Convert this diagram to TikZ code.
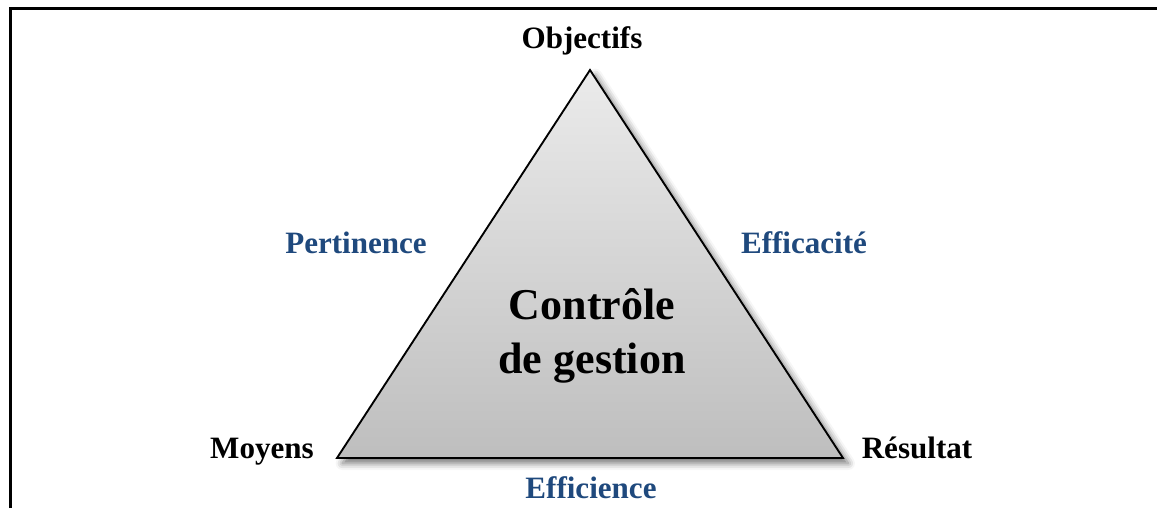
\documentclass[tikz,border=0pt]{standalone}
\usepackage{fontspec}
\setmainfont{Liberation Serif}
\usepackage{tikz}
\usetikzlibrary{shadows.blur, positioning}
\definecolor{myblue}{HTML}{1F497D}
\definecolor{toptri}{HTML}{EBEBEB}
\definecolor{bottri}{HTML}{BEBEBE}
\tikzset{
  corner/.style={font=\bfseries\fontsize{23.3}{28}\selectfont, anchor=base, inner sep=0pt},
  side/.style={corner, text=myblue}
}

\begin{document}
\begin{tikzpicture}[x=0.75pt, y=0.75pt]
	\useasboundingbox (0,0) rectangle (1157,508);
	\draw [line width=2.25pt] (10.7,0) -- (10.7,499.5) -- (1157,499.5);
	% triangle
	\coordinate (apex) at (590,438);
	\coordinate (bl) at (337,50);
	\coordinate (br) at (843,50);
	\filldraw [line width=1.4pt, top color=toptri, bottom color=bottri,
		blur shadow={shadow xshift=4pt, shadow yshift=-4pt, shadow blur radius=5pt, shadow opacity=55}]
		(apex) -- (br) -- (bl) -- cycle;
	\node [font=\bfseries\fontsize{33}{41}\selectfont, align=center, inner sep=0pt] (cdg) at (592,172) {Contrôle\\de gestion};
	% corners
	\node [corner] (obj) at (582,459) {Objectifs};
	\node [corner] (moy) at (262,50) {Moyens};
	\node [corner] (res) at (917,50) {Résultat};
	% sides
	\node [side] (per) at (356,255) {Pertinence};
	\node [side] (eff) at (804,255) {Efficacité};
	\node [side] (efi) at (591,10) {Efficience};
\end{tikzpicture}
\end{document}
